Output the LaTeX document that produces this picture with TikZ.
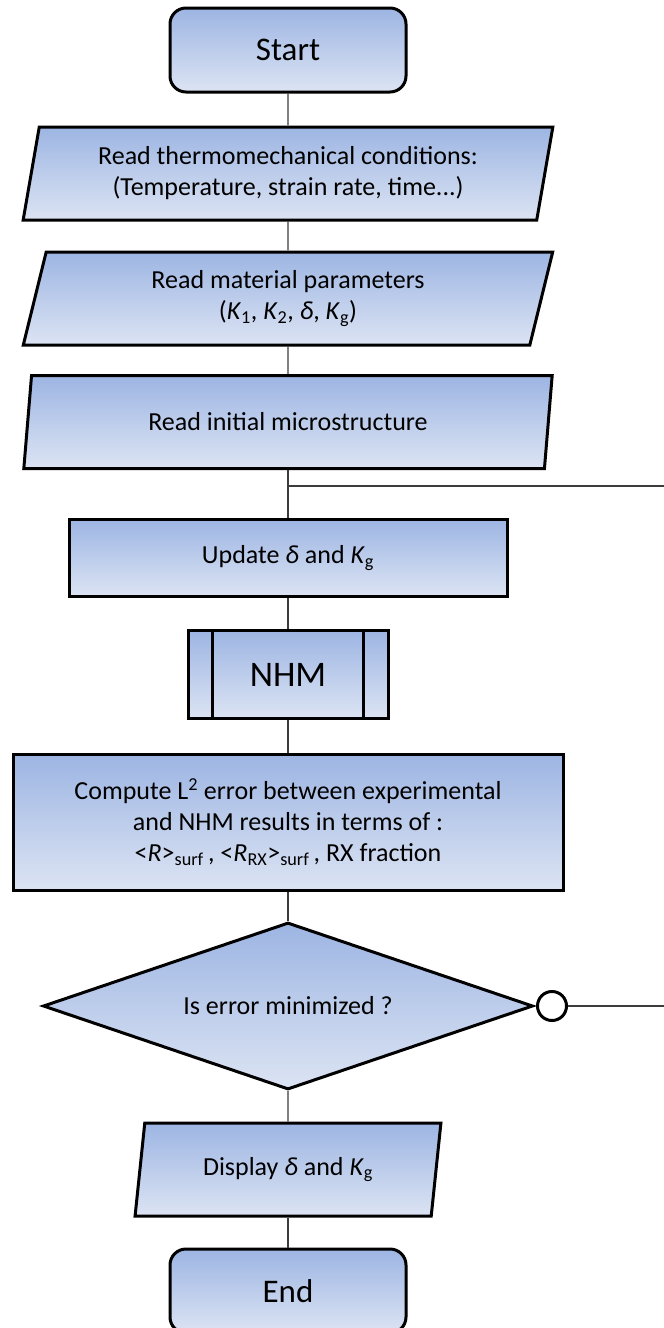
\documentclass[tikz,border=0pt]{standalone}
\usepackage{fontspec}
\setmainfont{Carlito}
\usepackage{tikz}
\usetikzlibrary{shapes.geometric}
\usepackage{xcolor}
\definecolor{fillTop}{RGB}{157,181,227}
\definecolor{fillBot}{RGB}{220,228,243}
\definecolor{linkgray}{RGB}{60,60,60}
\newcommand{\bodysize}{\fontsize{26}{31}\selectfont}
\newcommand{\bigsize}{\fontsize{33}{40}\selectfont}

\begin{document}
\begin{tikzpicture}[x=1pt,y=-1pt,
  box/.style={draw=black,line width=3pt,top color=fillTop,bottom color=fillBot,
    inner sep=0pt,align=center,font=\bodysize},
  termbox/.style={box,rectangle,rounded corners=16pt,minimum width=236pt,minimum height=84pt,font=\bigsize},
  iobox/.style={box,trapezium,trapezium left angle=77,trapezium right angle=103,
    trapezium stretches=true,minimum height=93pt},
  procbox/.style={box,rectangle},
  link/.style={draw=linkgray,line width=1.2pt}]
  \useasboundingbox (0,0) rectangle (664,1328);
  \clip (0,0) rectangle (664,1328);
  \node[termbox] (start) at (288,50) {Start};
  \node[iobox,minimum width=530pt] (cond) at (288,173.5) {Read thermomechanical conditions:\\(Temperature, strain rate, time...)};
  \node[iobox,minimum width=530pt] (param) at (288,298.5) {Read material parameters\\(\textit{K}\textsubscript{1}, \textit{K}\textsubscript{2}, \textit{δ}, \textit{K}\textsubscript{g})};
  \node[iobox,minimum width=530pt] (micro) at (288,422) {Read initial microstructure};
  \coordinate (br) at (288,486);
  \coordinate (brR) at (664,486);
  \node[procbox,minimum width=438pt,minimum height=77pt] (update) at (288,558) {Update \textit{δ} and \textit{K}\textsubscript{g}};
  \node[procbox,minimum width=200pt,minimum height=88pt,font=\fontsize{36}{42}\selectfont] (nhm) at (288,674.5) {NHM};
  \draw[line width=3pt] ([xshift=26pt]nhm.north west) -- ([xshift=26pt]nhm.south west);
  \draw[line width=3pt] ([xshift=-26pt]nhm.north east) -- ([xshift=-26pt]nhm.south east);
  \node[procbox,minimum width=550pt,minimum height=136pt] (comp) at (288,822.5) {Compute L\textsuperscript{2} error between experimental\\and NHM results in terms of :\\<\textit{R}>\textsubscript{surf}\,, <\textit{R}\textsubscript{RX}>\textsubscript{surf}\,, RX fraction};
  \node[box,diamond,aspect=2.93,minimum width=490pt,minimum height=167pt] (check) at (288,1006) {Is error minimized ?};
  \node[circle,draw=black,line width=3pt,fill=white,minimum size=29pt,inner sep=0pt] (loopc) at (552,1006) {};
  \coordinate (loopR) at (664,1006);
  \node[iobox,minimum width=306pt] (disp) at (288,1169.5) {Display \textit{δ} and \textit{K}\textsubscript{g}};
  \node[termbox] (end) at (288,1291) {End};
  % connectors
  \draw[link] (start) -- (cond);
  \draw[link] (cond) -- (param);
  \draw[link] (param) -- (micro);
  \draw[link] (micro) -- (update);
  \draw[link] (br) -- (brR);
  \draw[link] (update) -- (nhm);
  \draw[link] (nhm) -- (comp);
  \draw[link] (comp) -- (check);
  \draw[link] (loopc) -- (loopR);
  \draw[link] (check) -- (disp);
  \draw[link] (disp) -- (end);
\end{tikzpicture}
\end{document}
